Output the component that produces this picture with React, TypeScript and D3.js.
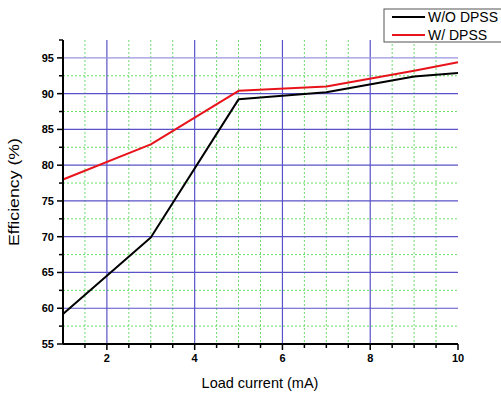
import * as d3 from 'd3';
import React from 'react';
import { useEffect, useRef } from 'react';

const loadCurrent = [1, 3, 5, 7, 9, 10];
const withoutDpss = [59.2, 69.9, 89.2, 90.2, 92.4, 92.9];
const withDpss = [78.0, 82.9, 90.4, 91.0, 93.2, 94.4];
const seriesNames = ['W/O DPSS', 'W/ DPSS'];
const seriesColors = ['#000000', '#e8141c'];
const xTicks = [2, 4, 6, 8, 10];
const yTicks = [55, 60, 65, 70, 75, 80, 85, 90, 95];

const App = () => {
    const ref = useRef<any>();

    useEffect(() => {
        const svg = d3.select<any, any>(ref.current);
        svg.selectAll('*').remove();

        const margin = { left: 63, top: 40, right: 43, bottom: 50 };
        const width = 501;
        const height = 394;
        const innerW = width - margin.left - margin.right;
        const innerH = height - margin.top - margin.bottom;

        const xScale = d3.scaleLinear().domain([1, 10]).range([0, innerW]);
        const yScale = d3.scaleLinear().domain([55, 97.5]).range([innerH, 0]);

        const stage = svg.append('g').attr('transform', `translate(${margin.left},${margin.top})`);

        // minor grid (green dotted)
        const xMinor = d3.range(1.5, 10, 0.5).filter((v) => !xTicks.includes(v));
        const yMinor = d3.range(57.5, 97.5, 2.5).filter((v) => !yTicks.includes(v));
        stage.selectAll('.vminor').data(xMinor).join('line')
            .attr('x1', (d) => xScale(d)).attr('x2', (d) => xScale(d))
            .attr('y1', 0).attr('y2', innerH)
            .attr('stroke', '#6ddc6d').attr('stroke-width', 1).attr('stroke-dasharray', '2,2');
        stage.selectAll('.hminor').data(yMinor).join('line')
            .attr('x1', 0).attr('x2', innerW)
            .attr('y1', (d) => yScale(d)).attr('y2', (d) => yScale(d))
            .attr('stroke', '#6ddc6d').attr('stroke-width', 1).attr('stroke-dasharray', '2,2');

        // major grid (blue)
        stage.selectAll('.vmajor').data(xTicks.filter((d) => d < 10)).join('line')
            .attr('x1', (d) => xScale(d)).attr('x2', (d) => xScale(d))
            .attr('y1', 0).attr('y2', innerH)
            .attr('stroke', '#5a52c8').attr('stroke-width', 1.2);
        stage.selectAll('.hmajor').data(yTicks.filter((d) => d > 55)).join('line')
            .attr('x1', 0).attr('x2', innerW)
            .attr('y1', (d) => yScale(d)).attr('y2', (d) => yScale(d))
            .attr('stroke', (d) => (d === 95 ? '#9a94e0' : '#5a52c8')).attr('stroke-width', 1.2);

        // series
        const line = d3.line<number>()
            .x((d, i) => xScale(loadCurrent[i]))
            .y((d) => yScale(d));
        [withoutDpss, withDpss].forEach((s, i) => {
            stage.append('path')
                .attr('d', line(s))
                .attr('fill', 'none')
                .attr('stroke', seriesColors[i])
                .attr('stroke-width', 2)
                .attr('stroke-linejoin', 'round');
        });

        // x axis
        const xAxis = stage.append('g').attr('transform', `translate(0,${innerH})`);
        xAxis.append('line').attr('x1', 0).attr('x2', innerW).attr('stroke', '#000').attr('stroke-width', 2);
        xAxis.selectAll('.xminort').data(xMinor).join('line')
            .attr('x1', (d) => xScale(d)).attr('x2', (d) => xScale(d))
            .attr('y1', 0).attr('y2', 4).attr('stroke', '#000').attr('stroke-width', 1.5);
        xAxis.selectAll('.xmajort').data(xTicks).join('line')
            .attr('x1', (d) => xScale(d)).attr('x2', (d) => xScale(d))
            .attr('y1', 0).attr('y2', 6).attr('stroke', '#000').attr('stroke-width', 1.5);
        xAxis.selectAll('.xlab').data(xTicks).join('text')
            .attr('x', (d) => xScale(d)).attr('y', 18)
            .attr('text-anchor', 'middle')
            .attr('font-family', 'Liberation Sans, Arial, sans-serif')
            .attr('font-size', 11).attr('font-weight', 'bold')
            .text((d) => d);

        // y axis
        const yAxis = stage.append('g');
        yAxis.append('line').attr('y1', 0).attr('y2', innerH).attr('stroke', '#000').attr('stroke-width', 2);
        yAxis.selectAll('.yminort').data(yMinor.concat([97.5])).join('line')
            .attr('x1', -4).attr('x2', 0)
            .attr('y1', (d) => yScale(d)).attr('y2', (d) => yScale(d)).attr('stroke', '#000').attr('stroke-width', 1.5);
        yAxis.selectAll('.ymajort').data(yTicks).join('line')
            .attr('x1', -6).attr('x2', 0)
            .attr('y1', (d) => yScale(d)).attr('y2', (d) => yScale(d)).attr('stroke', '#000').attr('stroke-width', 1.5);
        yAxis.selectAll('.ylab').data(yTicks).join('text')
            .attr('x', -9).attr('y', (d) => yScale(d) + 4)
            .attr('text-anchor', 'end')
            .attr('font-family', 'Liberation Sans, Arial, sans-serif')
            .attr('font-size', 11).attr('font-weight', 'bold')
            .text((d) => d);

        // axis titles
        svg.append('text')
            .attr('x', 260).attr('y', 388)
            .attr('text-anchor', 'middle')
            .attr('font-family', 'Liberation Sans, Arial, sans-serif')
            .attr('font-size', 14.5)
            .text('Load current (mA)');
        svg.append('text')
            .attr('transform', 'translate(19,192) rotate(-90)')
            .attr('text-anchor', 'middle')
            .attr('font-family', 'Liberation Sans, Arial, sans-serif')
            .attr('font-size', 15)
            .attr('textLength', 108)
            .attr('lengthAdjust', 'spacingAndGlyphs')
            .text('Efficiency (%)');

        // legend
        const legend = svg.append('g').attr('transform', 'translate(384,9)');
        legend.append('rect').attr('x', 0).attr('y', 0).attr('width', 120).attr('height', 33)
            .attr('fill', '#fff').attr('stroke', '#555').attr('stroke-width', 1);
        seriesNames.forEach((name, i) => {
            legend.append('line')
                .attr('x1', 8).attr('x2', 41)
                .attr('y1', 8 + i * 18).attr('y2', 8 + i * 18)
                .attr('stroke', seriesColors[i]).attr('stroke-width', 2);
            legend.append('text')
                .attr('x', 44).attr('y', 13 + i * 18)
                .attr('font-family', 'Liberation Sans, Arial, sans-serif')
                .attr('font-size', 14)
                .text(name);
        });
    }, []);

    return (
        <svg ref={ref} width={501} height={394} style={{ position: 'absolute', left: 0, top: 0 }}></svg>
    );
};

export default App;
